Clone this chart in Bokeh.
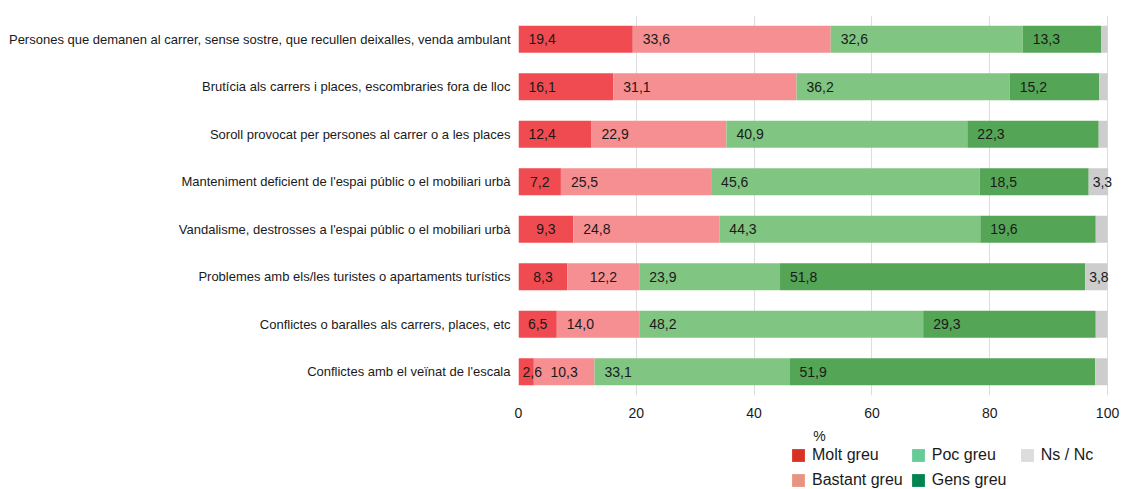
from bokeh.plotting import figure
from bokeh.layouts import column
from bokeh.models import ColumnDataSource, FactorRange, Range1d, Legend, LegendItem
from bokeh.core.properties import value
from bokeh.embed import file_html
from bokeh.resources import INLINE

categories = [
    "Persones que demanen al carrer, sense sostre, que recullen deixalles, venda ambulant",
    "Brutícia als carrers i places, escombraries fora de lloc",
    "Soroll provocat per persones al carrer o a les places",
    "Manteniment deficient de l'espai públic o el mobiliari urbà",
    "Vandalisme, destrosses a l'espai públic o el mobiliari urbà",
    "Problemes amb els/les turistes o apartaments turístics",
    "Conflictes o baralles als carrers, places, etc",
    "Conflictes amb el veïnat de l'escala",
]
molt_greu = [19.4, 16.1, 12.4, 7.2, 9.3, 8.3, 6.5, 2.6]
bastant_greu = [33.6, 31.1, 22.9, 25.5, 24.8, 12.2, 14.0, 10.3]
poc_greu = [32.6, 36.2, 40.9, 45.6, 44.3, 23.9, 48.2, 33.1]
gens_greu = [13.3, 15.2, 22.3, 18.5, 19.6, 51.8, 29.3, 51.9]
ns_nc = [1.1, 1.4, 1.5, 3.3, 2.0, 3.8, 2.0, 2.1]
series_names = ["Molt greu", "Bastant greu", "Poc greu", "Gens greu", "Ns / Nc"]
x_ticks = [0, 20, 40, 60, 80, 100]
x_label = "%"

bar_colors = ["#f04b51", "#f68f92", "#80c581", "#55a556", "#cdcdcd"]
legend_colors = ["#d73222", "#e8957f", "#66cb96", "#00844f", "#dcdcdc"]
FONT = "Liberation Sans"

series = [molt_greu, bastant_greu, poc_greu, gens_greu, ns_nc]
keys = ["s%d" % i for i in range(len(series))]
data = {"cat": categories}
for k, s in zip(keys, series):
    data[k] = s
source = ColumnDataSource(data)

# x range runs a little past 100 so that labels of the last segments are not clipped
p = figure(width=1121, height=446,
           y_range=FactorRange(*reversed(categories)), x_range=Range1d(0, 102.2),
           output_backend="svg", toolbar_location=None,
           min_border_left=518, min_border_right=1, min_border_top=15,
           min_border_bottom=51)
p.outline_line_color = None
p.background_fill_color = "white"

p.hbar_stack(keys, y="cat", height=0.57, fill_color=bar_colors,
             line_color=None, source=source)

# value labels
groups = {"left": ([], [], []), "center": ([], [], []), "tiny": ([], [], [])}
for i, cat in enumerate(categories):
    start = 0.0
    for s in series:
        v = s[i]
        if v >= 2.5:
            txt = ("%.1f" % v).replace(".", ",")
            if v < 5:
                g = groups["tiny"]; g[0].append(start)
            elif v <= 12.2:
                g = groups["center"]; g[0].append(start + v / 2.0)
            else:
                g = groups["left"]; g[0].append(start)
            g[1].append(cat); g[2].append(txt)
        start += v

for name, align, off in [("left", "left", 10), ("center", "center", 0), ("tiny", "left", 4)]:
    gx, gy, gt = groups[name]
    p.text(x="x", y="y", text="t", source=ColumnDataSource(dict(x=gx, y=gy, t=gt)),
           text_font=value(FONT), text_font_size="14px", text_color="#1a1a1a",
           text_align=align, text_baseline="middle", x_offset=off)

# axes
p.xaxis.ticker = x_ticks
p.xaxis.axis_label = x_label
p.xaxis.axis_line_color = None
p.xaxis.major_tick_line_color = None
p.xaxis.minor_tick_line_color = None
p.xaxis.major_tick_out = 0
p.xaxis.major_label_standoff = 12
p.xaxis.major_label_text_font = FONT
p.xaxis.major_label_text_font_size = "14px"
p.xaxis.major_label_text_color = "#1a1a1a"
p.xaxis.axis_label_text_font = FONT
p.xaxis.axis_label_text_font_size = "14px"
p.xaxis.axis_label_text_font_style = "normal"
p.xaxis.axis_label_text_color = "#1a1a1a"
p.xaxis.axis_label_standoff = 7

p.yaxis.axis_line_color = None
p.yaxis.major_tick_line_color = None
p.yaxis.minor_tick_line_color = None
p.yaxis.major_tick_out = 0
p.yaxis.major_label_standoff = 8
p.yaxis.major_label_text_font = FONT
p.yaxis.major_label_text_font_size = "13px"
p.yaxis.major_label_text_color = "#1a1a1a"

p.xgrid.grid_line_color = "#dddddd"
p.ygrid.grid_line_color = None

# legend strip (legend colours differ from bar colours in the reference);
# its frame is aligned with the main frame by the column layout
p2 = figure(width=1121, height=43, x_range=Range1d(0, 1), y_range=Range1d(0, 1),
            output_backend="svg", toolbar_location=None,
            min_border_left=518, min_border_right=1,
            min_border_top=0, min_border_bottom=0)
p2.axis.visible = False
p2.outline_line_color = None
p2.xgrid.grid_line_color = None
p2.ygrid.grid_line_color = None
p2.background_fill_alpha = 0
p2.border_fill_alpha = 0

proxies = {}
for name, c in zip(series_names, legend_colors):
    proxies[name] = p2.hbar(y=[0], left=[0], right=[0], height=0,
                            fill_color=c, line_color=None)

# column-major arrangement: (Molt, Bastant) (Poc, Gens) (Ns)
order = [0, 2, 4, 1, 3]
items = [LegendItem(label=series_names[j], renderers=[proxies[series_names[j]]])
         for j in order]

legend = Legend(items=items, orientation="horizontal", ncols=3,
                location=(272, 0),
                label_text_font=FONT, label_text_font_size="16px",
                label_text_color="#1a1a1a",
                glyph_width=16, glyph_height=16, label_height=17,
                label_standoff=6, label_width=80, spacing=7,
                padding=0, margin=0, border_line_color=None,
                background_fill_alpha=0)
p2.add_layout(legend, "center")

layout = column(p, p2, spacing=0)
open("out.html", "w").write(file_html(layout, INLINE))
